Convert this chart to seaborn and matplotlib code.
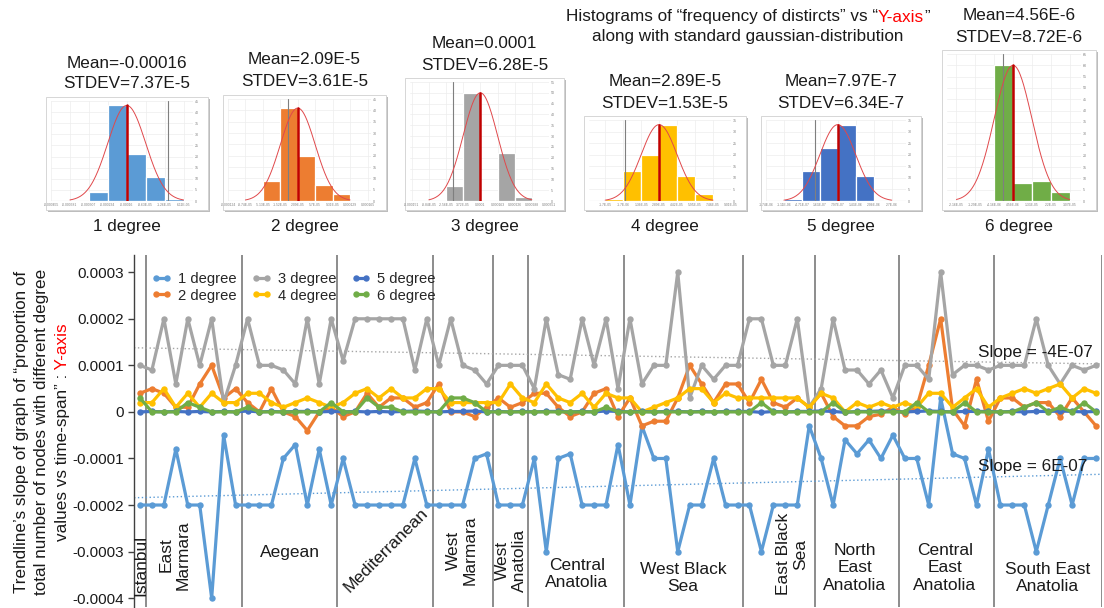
import numpy as np
import pandas as pd
import matplotlib
matplotlib.use("Agg")
import matplotlib.pyplot as plt
from matplotlib.lines import Line2D
from matplotlib.patches import Rectangle
from matplotlib.ticker import FuncFormatter
import seaborn as sns

sns.set_theme(style="white")
plt.rcParams["font.family"] = ["Liberation Sans", "DejaVu Sans"]

# ---------------- data ----------------
degree_labels = ["1 degree", "2 degree", "3 degree", "4 degree", "5 degree", "6 degree"]
degree_colors = ["#5B9BD5", "#ED7D31", "#A5A5A5", "#FFC000", "#4472C4", "#70AD47"]

regions = ["Istanbul", "East Marmara", "Aegean", "Mediterranean", "West Marmara",
           "West Anatolia", "Central Anatolia", "West Black Sea", "East Black Sea",
           "North East Anatolia", "Central East Anatolia", "South East Anatolia"]
region_sizes = [1, 8, 8, 8, 5, 3, 8, 10, 6, 7, 8, 9]

# trendline slope per district (units of 1e-5), districts grouped by region
deg1 = [-20,
        -20, -20, -8, -20, -20, -40, -5, -20,
        -20, -20, -20, -10, -7, -20, -8, -20,
        -10, -20, -20, -20, -20, -20, -10, -20,
        -20, -20, -20, -10, -9,
        -20, -20, -20,
        -10, -30, -10, -9, -20, -20, -20, -7,
        -20, -3, -10, -10, -30, -20, -20, -10, -20, -20,
        -20, -30, -20, -20, -20, -3,
        -10, -20, -6, -9, -6, -10, -5,
        -10, -10, -20, 3, -9, -10, -20, -8,
        -20, -20, -20, -30, -20, -10, -20, -10, -10]
deg2 = [4,
        5, 4, 1, 1, 6, 10, 3, 5,
        2, 0, 5, 0, -1, -4, 0, 1,
        -1, 0, 4, 1, 3, 3, 1, 2,
        6, 0, 0, -1, 1,
        3, 1, 2,
        4, 4, 1, -1, 0, 4, 5, -1,
        3, -3, -2, -2, 3, 10, 6, 2, 6, 6,
        2, 7, 2, 1, 3, 1,
        4, -1, -3, -3, -1, -0.5, 1,
        -0.5, 1, 10, 20, 0.5, -3, 7, -2,
        3, 3, 1, 2, 2, -1, 3, 0, -3]
deg3 = [10,
        9, 20, 6, 20, 10, 20, 2, 10,
        20, 10, 10, 9, 6, 20, 6, 20,
        11, 20, 20, 20, 20, 20, 9, 20,
        10, 20, 10, 9, 6,
        10, 10, 10,
        5, 20, 8, 7, 20, 10, 20, 5,
        20, 6, 10, 10, 30, 3, 10, 7, 10, 10,
        20, 20, 10, 10, 20, 1,
        5, 20, 9, 9, 6, 9, 3,
        10, 10, 7, 30, 8, 10, 10, 9,
        10, 10, 10, 20, 10, 6, 10, 9, 10]
deg4 = [2,
        2, 5, 1, 4, 1, 4, 2, 2,
        4, 4, 2, 1, 2, 3, 2, 1,
        2, 4, 5, 3, 5, 3, 3, 5,
        5, 2, 2, 2, 2,
        2, 6, 3,
        2, 6, 3, 2, 4, 1, 4, 3,
        3, 0, 1, 2, 3, 5, 5, 2, 4, 3,
        3, 3, 3, 3, 3, 1,
        4, 3, 0, 2, 1, 2, 1,
        2, 1, 4, 4, 1, 3, 5, 1,
        3, 4, 5, 4, 5, 6, 3, 5, 4]
# 5 degree is an order of magnitude smaller (units of 1e-6)
deg5 = [0,
        1, 0, 1, 0, 1, 0, 1, 0,
        2, 0, 1, 0, 1, 1, 0, 1,
        0, 1, 0, 1, 0, 1, 2, 1,
        0, 1, 1, 2, 0,
        1, 0, 1,
        0, 1, 1, 0, 1, 0, 2, 1,
        0, 1, 0, 1, 1, 0, 1, 0, 1, 1,
        1, -1, 1, 0, 1, 1,
        2, 1, -1, 1, 1, 2, 1,
        0, 1, 2, 1, 0, 1, 1, 1,
        0, 1, 0, 1, 1, 2, 1, 0, 1]
deg6 = [3,
        0, 0, 0, 2, 1, 0, 0, 0,
        1, 0, 0, 0, 0, 0, 0, 2,
        0, 0, 3, 1, 1, 0, 0, 0,
        0, 3, 3, 2, 0,
        0, 0, 0,
        0, 0, 0, 0, 0, 0, 1, 0,
        0, 0, 0, 0, 0, 0, 0, 0, 0, 0,
        0, 2, 0, 0, 0, 0,
        0, 2, 0, 0, 0, 0, 0,
        0, 2, 0, 0, 0, 2, 0, 0,
        0, 0, 1, 2, 0, 1, 0, 2, 0]

series = [np.array(deg1) * 1e-5, np.array(deg2) * 1e-5, np.array(deg3) * 1e-5,
          np.array(deg4) * 1e-5, np.array(deg5) * 1e-6, np.array(deg6) * 1e-5]

y_ticks = [0.0003, 0.0002, 0.0001, 0, -0.0001, -0.0002, -0.0003, -0.0004]

# histogram summaries
hist_means = [-0.00016, 2.09e-5, 0.0001, 2.89e-5, 7.97e-7, 4.56e-6]
hist_stdevs = [7.37e-5, 3.61e-5, 6.28e-5, 1.53e-5, 6.34e-7, 8.72e-6]
hist_mean_text = ["Mean=-0.00016", "Mean=2.09E-5", "Mean=0.0001",
                  "Mean=2.89E-5", "Mean=7.97E-7", "Mean=4.56E-6"]
hist_stdev_text = ["STDEV=7.37E-5", "STDEV=3.61E-5", "STDEV=6.28E-5",
                   "STDEV=1.53E-5", "STDEV=6.34E-7", "STDEV=8.72E-6"]
hist_counts = [[4, 43, 21, 11, 1],
               [9, 41, 20, 7, 3],
               [7, 50, 0, 22, 2],
               [1, 13, 20, 33, 11, 3],
               [1, 13, 23, 33, 11],
               [60, 8, 9, 4]]
hist_first_bin = [-2, -2, -2, -3, -3, -1]       # in stdev steps from the mean
hist_count_max = [45, 45, 55, 35, 35, 65]

# ---------------- layout (pixels) ----------------
W, H = 1104, 608
fig = plt.figure(figsize=(W / 100, H / 100), dpi=100)
fig.patch.set_facecolor("white")


def fx(px):
    return px / W


def fy(py):
    return 1 - py / H


FS = 12.3

# ---------------- main chart ----------------
ax_l, ax_r, ax_t, ax_b = 134, 1102, 255, 607
ax = fig.add_axes([fx(ax_l), fy(ax_b), (ax_r - ax_l) / W, (ax_b - ax_t) / H])
ax.set_facecolor("white")
n = len(deg1)
idx = np.arange(n)
ax.set_xlim(-0.5, n - 0.5)
ax.set_ylim(-0.000419, 0.000337)

# region separators
bounds = np.cumsum(region_sizes) - 0.5
for b in bounds:
    ax.axvline(b, color="#8C8C8C", lw=1.4, zorder=1)

# linear trendlines for 1 degree and 3 degree
sns.regplot(x=idx, y=series[2], scatter=False, ci=None, truncate=False, ax=ax,
            color="#A5A5A5", line_kws=dict(lw=1.0, ls=(0, (1.0, 1.8)), zorder=2))
sns.regplot(x=idx, y=series[0], scatter=False, ci=None, truncate=False, ax=ax,
            color="#5B9BD5", line_kws=dict(lw=1.0, ls=(0, (1.0, 1.8)), zorder=2))

df = pd.concat([pd.DataFrame({"district": idx, "slope": s, "degree": lab})
                for s, lab in zip(series, degree_labels)], ignore_index=True)
sns.lineplot(data=df, x="district", y="slope", hue="degree", hue_order=degree_labels,
             palette=degree_colors, marker="o", markersize=4.6, markeredgewidth=0,
             linewidth=2.3, sort=False, estimator=None, legend=False, ax=ax, zorder=3)

ax.set_xlim(-0.5, n - 0.5)
ax.set_ylim(-0.000419, 0.000337)
ax.set_xlabel("")
ax.set_ylabel("")
ax.set_xticks([])
ax.set_yticks(y_ticks)
ax.yaxis.set_major_formatter(FuncFormatter(lambda v, p: "0" if abs(v) < 1e-12 else f"{v:.4f}"))
ax.tick_params(axis="y", direction="out", length=4, width=1, color="#404040",
               labelsize=11, labelcolor="#1a1a1a", pad=3, left=True)
for side in ["top", "right", "bottom"]:
    ax.spines[side].set_visible(False)
ax.spines["left"].set_color("#404040")
ax.spines["left"].set_linewidth(1.0)

handles = [Line2D([], [], color=c, lw=2.3, marker="o", markersize=4.6, markeredgewidth=0)
           for c in degree_colors]
ax.legend(handles, degree_labels, loc="upper left",
          bbox_to_anchor=((152 - ax_l) / (ax_r - ax_l), (ax_b - 272) / (ax_b - ax_t)),
          ncol=3, frameon=False, fontsize=10.6, handlelength=1.3, handletextpad=0.45,
          columnspacing=1.05, labelspacing=0.18, borderaxespad=0, borderpad=0, numpoints=2)

fig.text(fx(978), fy(352), "Slope = -4E-07", fontsize=FS, ha="left", va="center", color="#1a1a1a")
fig.text(fx(978), fy(467), "Slope = 6E-07", fontsize=FS, ha="left", va="center", color="#1a1a1a")

# region names
region_label_pos = {
    "Istanbul": (141, 565, 90, "Istanbul"),
    "East Marmara": (175, 555, 90, "East\nMarmara"),
    "Aegean": (290, 552, 0, "Aegean"),
    "Mediterranean": (386, 550, 45, "Mediterranean"),
    "West Marmara": (462, 550, 90, "West\nMarmara"),
    "West Anatolia": (511, 560, 90, "West\nAnatolia"),
    "Central Anatolia": (577, 574, 0, "Central\nAnatolia"),
    "West Black Sea": (683, 578, 0, "West Black\nSea"),
    "East Black Sea": (792, 554, 90, "East Black\nSea"),
    "North East Anatolia": (855, 568, 0, "North\nEast\nAnatolia"),
    "Central East Anatolia": (945, 568, 0, "Central\nEast\nAnatolia"),
    "South East Anatolia": (1048, 578, 0, "South East\nAnatolia"),
}
for name in regions:
    x, y, rot, txt = region_label_pos[name]
    fig.text(fx(x), fy(y), txt, fontsize=12.5, rotation=rot, ha="center", va="center",
             multialignment="center", linespacing=1.18, color="#1a1a1a",
             rotation_mode="anchor" if rot == 45 else "default")

# ---------------- multi-coloured text helper ----------------
renderer = fig.canvas.get_renderer()


def mixed_text(parts, x, y, rotation=0, size=FS):
    arts = []
    for s, c in parts:
        if rotation == 0:
            t = fig.text(0, 0, s, color=c, fontsize=size, ha="left", va="center")
        else:
            t = fig.text(0, 0, s, color=c, fontsize=size, rotation=90, ha="center", va="bottom")
        arts.append(t)
    lens = []
    for t in arts:
        bb = t.get_window_extent(renderer)
        lens.append(bb.width if rotation == 0 else bb.height)
    pos = (x if rotation == 0 else (H - y)) - sum(lens) / 2
    for t, L in zip(arts, lens):
        if rotation == 0:
            t.set_position((pos / W, fy(y)))
        else:
            t.set_position((fx(x), pos / H))
        pos += L


# y-axis caption
mixed_text([("Trendline\u2019s slope of graph of \u201cproportion of", "#1a1a1a")], 22, 432, rotation=90)
mixed_text([("total number of nodes with different degree", "#1a1a1a")], 42, 432, rotation=90)
mixed_text([("values vs time-span\u201d :", "#1a1a1a"), (" Y-axis", "#FF0000")], 63, 432, rotation=90)

# histogram caption
mixed_text([("Histograms of \u201cfrequency of distircts\u201d vs \u201c", "#1a1a1a"),
            ("Y-axis", "#FF0000"), ("\u201d", "#1a1a1a")], 748, 17)
fig.text(fx(748), fy(37), "along with standard gaussian-distribution", fontsize=FS,
         ha="center", va="center", color="#1a1a1a")

# ---------------- histogram insets ----------------
hist_boxes = [(46, 208, 97, 210), (223, 386, 95, 210), (405, 564, 78, 210),
              (584, 746, 116, 210), (761, 921, 116, 210), (942, 1096, 50, 210)]
hist_xrange = [(-4.0, 3.5), (-4.0, 4.2), (-4.1, 4.0), (-3.9, 4.0), (-4.0, 3.8), (-3.5, 3.6)]
hist_title_y = [(63, 84), (60, 81), (43, 65), (82, 103), (82, 103), (15, 37)]

for i in range(6):
    bx0, bx1, by0, by1 = hist_boxes[i]
    cx = (bx0 + bx1) / 2
    fig.add_artist(Rectangle((fx(bx0 + 2), fy(by1 + 2)), (bx1 - bx0) / W, (by1 - by0) / H,
                             transform=fig.transFigure, facecolor="#BDBDBD",
                             edgecolor="none", zorder=-3))
    fig.add_artist(Rectangle((fx(bx0), fy(by1)), (bx1 - bx0) / W, (by1 - by0) / H,
                             transform=fig.transFigure, facecolor="white",
                             edgecolor="#D0D0D0", lw=0.6, zorder=-2))
    px0, px1, py0, py1 = bx0 + 5, bx1 - 15, by0 + 4, by1 - 9
    hax = fig.add_axes([fx(px0), fy(py1), (px1 - px0) / W, (py1 - py0) / H])
    hax.set_facecolor("none")
    hax.set_zorder(1)

    m, s = hist_means[i], hist_stdevs[i]
    counts = hist_counts[i]
    k0 = hist_first_bin[i]
    edges = m + s * (k0 + np.arange(len(counts) + 1))
    lo, hi = hist_xrange[i]
    ymax = hist_count_max[i]
    hax.set_xlim(m + lo * s, m + hi * s)
    hax.set_ylim(0, ymax)

    ticks = m + s * np.arange(int(np.ceil(lo)), int(np.floor(hi)) + 1)
    for t in ticks:
        hax.axvline(t, color="#EDEDED", lw=0.5, zorder=0)
    for yv in range(5, ymax + 1, 5):
        hax.axhline(yv, color="#EDEDED", lw=0.5, zorder=0)

    hax.bar(edges[:-1], counts, width=np.diff(edges), align="edge",
            color=degree_colors[i], edgecolor="white", linewidth=0.9, zorder=2)
    hax.axvline(0, color="#7F7F7F", lw=0.8, zorder=2.5)
    gx = np.linspace(m - 3 * s, m + 3 * s, 200)
    gy = max(counts) * np.exp(-0.5 * ((gx - m) / s) ** 2)
    hax.plot(gx, gy, color="#E0484B", lw=0.7, zorder=3)
    hax.plot([m, m], [0, max(counts)], color="#C00000", lw=1.8, zorder=4)
    hax.axhline(0, color="#BFBFBF", lw=0.8, zorder=1)

    hax.set_xticks(ticks)
    hax.set_xticklabels([f"{t:.3g}".replace("e-0", "E-0") for t in ticks],
                        fontsize=2.4, color="#7F7F7F")
    hax.set_yticks(range(0, ymax + 1, 5))
    hax.set_yticklabels([str(v) for v in range(0, ymax + 1, 5)], fontsize=2.6, color="#7F7F7F")
    hax.yaxis.tick_right()
    hax.tick_params(axis="both", length=0, pad=1.5)
    for sp in hax.spines.values():
        sp.set_visible(False)

    fig.text(fx(cx), fy(hist_title_y[i][0]), hist_mean_text[i], fontsize=FS,
             ha="center", va="center", color="#1a1a1a")
    fig.text(fx(cx), fy(hist_title_y[i][1]), hist_stdev_text[i], fontsize=FS,
             ha="center", va="center", color="#1a1a1a")
    fig.text(fx(cx), fy(226), degree_labels[i], fontsize=FS, ha="center", va="center",
             color="#1a1a1a")

fig.savefig("out.png", dpi=100, facecolor="white")
